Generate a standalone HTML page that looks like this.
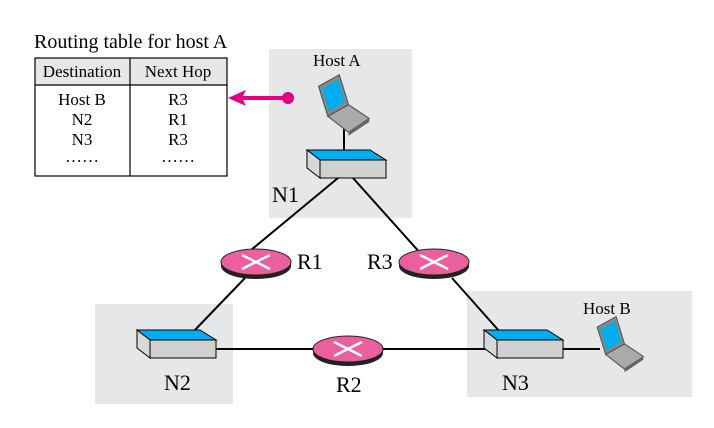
<!DOCTYPE html>
<html><head><style>
body{margin:0;background:#fff}
svg{display:block;font-family:"Liberation Serif",serif}
</style></head><body>
<svg width="714" height="428" viewBox="0 0 714 428" xmlns="http://www.w3.org/2000/svg">
<defs>
<g id="sw">
<polygon points="0,0 63,0 79,10 13,10" fill="#00aeef" stroke="#000" stroke-width="1"/>
<polygon points="0,0 13,10 13,28 0,18" fill="#d8d8d8" stroke="#000" stroke-width="1"/>
<rect x="13" y="10" width="66" height="18" fill="#d0d0d0" stroke="#000" stroke-width="1"/>
</g>
<g id="rt">
<ellipse cx="0" cy="4" rx="35" ry="13" fill="#222"/>
<ellipse cx="0" cy="0" rx="35" ry="13" fill="#ec5f9e" stroke="#222" stroke-width="1"/>
<path d="M-14,-7 L14,7 M-14,7 L14,-7" stroke="#fff" stroke-width="2.5"/>
</g>
<g id="lp">
<polygon points="4,2 22,-8 30,18 12,28" fill="#888" stroke="#555"/>
<polygon points="7,4 21,-4 27,16 13,24" fill="#00aeef"/>
<polygon points="12,28 30,18 48,30 30,42" fill="#aaa" stroke="#555"/>
<polygon points="30,42 48,30 48,33 30,45" fill="#666"/>
</g>
</defs>
<rect x="269" y="49" width="143" height="169" fill="#e6e7e8"/>
<rect x="95" y="304" width="138" height="100" fill="#e6e7e8"/>
<rect x="467" y="291" width="225" height="106" fill="#e6e7e8"/>
<g stroke="#000" stroke-width="2" fill="none">
<line x1="344" y1="118" x2="344" y2="150"/>
<line x1="338" y1="178" x2="245" y2="255"/>
<line x1="353" y1="178" x2="422" y2="255"/>
<line x1="245" y1="278" x2="193" y2="332"/>
<line x1="452" y1="278" x2="500" y2="332"/>
<line x1="216" y1="349" x2="600" y2="349"/>
</g>
<use href="#sw" x="307" y="150"/>
<use href="#sw" x="137" y="330"/>
<use href="#sw" x="484" y="330"/>
<use href="#rt" x="256" y="262"/>
<use href="#rt" x="434" y="262"/>
<use href="#rt" x="348" y="349"/>
<g transform="translate(314,84) scale(1.15)"><use href="#lp"/></g>
<g transform="translate(593,325) scale(1.05)"><use href="#lp"/></g>
<text x="34" y="48" font-size="20">Routing table for host A</text>
<rect x="35" y="58" width="192" height="27" fill="#e6e7e8"/>
<rect x="35" y="58" width="192" height="118" fill="none" stroke="#000" stroke-width="1.2"/>
<line x1="35" y1="85" x2="227" y2="85" stroke="#000" stroke-width="1.2"/>
<line x1="130" y1="58" x2="130" y2="176" stroke="#000" stroke-width="1.2"/>
<g font-size="17" text-anchor="middle">
<text x="82" y="77">Destination</text><text x="178" y="77">Next Hop</text>
<text x="82" y="105">Host B</text><text x="178" y="105">R3</text>
<text x="82" y="125">N2</text><text x="178" y="125">R1</text>
<text x="82" y="145">N3</text><text x="178" y="145">R3</text>
<text x="82" y="162">……</text><text x="178" y="162">……</text>
</g>
<line x1="240" y1="98" x2="288" y2="98" stroke="#e6007e" stroke-width="4"/>
<polygon points="228,98 246,90 242,98 246,106" fill="#e6007e"/>
<circle cx="288" cy="98" r="6" fill="#e6007e"/>
<g font-size="17"><text x="313" y="66">Host A</text><text x="583" y="314">Host B</text></g>
<g font-size="22">
<text x="272" y="202">N1</text><text x="297" y="269">R1</text><text x="367" y="269">R3</text>
<text x="164" y="390">N2</text><text x="336" y="392">R2</text><text x="502" y="390">N3</text>
</g>
</svg>
</body></html>
